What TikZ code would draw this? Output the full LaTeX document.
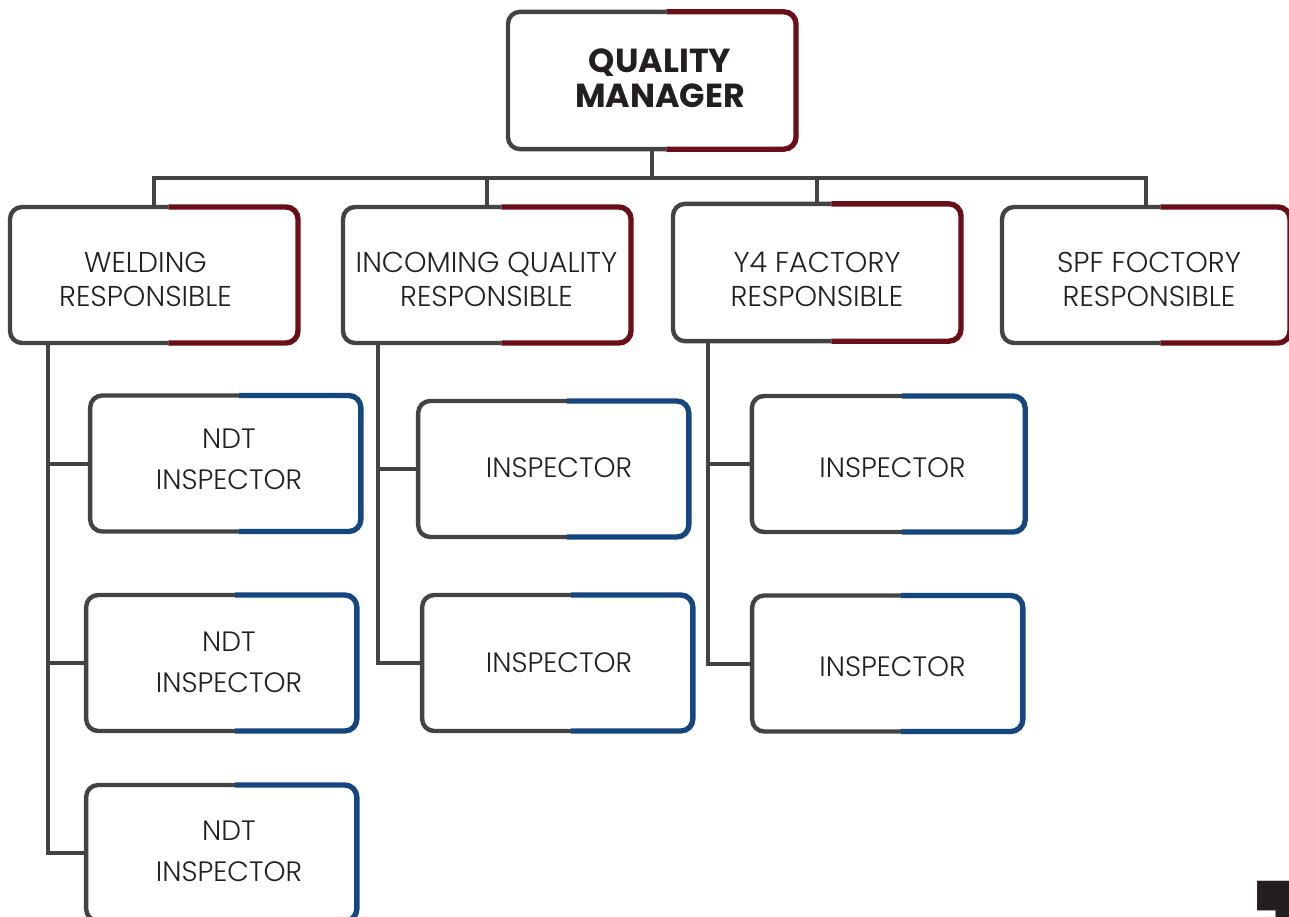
\documentclass[tikz,border=0pt]{standalone}
\usepackage{fontspec}
\IfFontExistsTF{Poppins Light}
  {\setmainfont{Poppins Light}[BoldFont=Poppins Bold]}
  {\setmainfont{Poppins}}
\usetikzlibrary{calc}

\definecolor{edgegrey}{HTML}{434343}
\definecolor{edgered}{HTML}{6A0E18}
\definecolor{edgeblue}{HTML}{16467F}
\definecolor{ink}{HTML}{231F20}

% one box: grey on the left, colour on the right
\newcommand{\splitbox}[2]{%
  \draw[greyedge] ($(#1.north west)!0.55!(#1.north east)$) -- (#1.north west) -- (#1.south west) -- ($(#1.south west)!0.55!(#1.south east)$);
  \draw[coloredge=#2] ($(#1.north west)!0.55!(#1.north east)$) -- (#1.north east) -- (#1.south east) -- ($(#1.south west)!0.55!(#1.south east)$);
}

\begin{document}
\begin{tikzpicture}[x=0.75pt,y=-0.75pt,
    frame/.style={inner sep=0pt,outer sep=0pt,fill=white},
    head/.style={frame,minimum width=216pt,minimum height=102pt},
    sub/.style={frame,minimum width=203pt,minimum height=102pt},
    lbl/.style={inner sep=0pt,align=center,text=ink,font=\fontsize{21.5}{25.5}\selectfont},
    sublbl/.style={lbl,font=\fontsize{21}{30.75}\selectfont},
    greyedge/.style={edgegrey,line width=3.3pt,rounded corners=9pt},
    coloredge/.style={#1,line width=4pt,rounded corners=9pt},
    link/.style={edgegrey,line width=3pt}]
  \useasboundingbox (0,0) rectangle (1289,917);
  \clip (0,0) rectangle (1289,917);

  % frames
  \node[head,minimum height=103pt] (qm) at (652,80.5) {};
  \node[head] (wel) at (154,275) {};
  \node[head] (inc) at (487,275) {};
  \node[head,minimum height=103pt] (yfour) at (817,272.5) {};
  \node[head] (spf) at (1146,275) {};

  \node[sub] (ndta) at (225.5,463.5) {};
  \node[sub] (ndtb) at (221.5,663) {};
  \node[sub] (ndtc) at (221.5,853) {};
  \node[sub] (inca) at (553.5,469) {};
  \node[sub] (incb) at (557.5,663) {};
  \node[sub,minimum width=205pt] (yfa) at (888.5,464) {};
  \node[sub] (yfb) at (887.5,663.5) {};

  % connectors
  \coordinate (bar) at (0,178);
  \draw[link] (qm.south) -- (qm.south |- bar);
  \draw[link] (wel.north) |- (spf.north |- bar) -- (spf.north);
  \draw[link] (inc.north) -- (inc.north |- bar);
  \draw[link] (yfour.north) -- (yfour.north |- bar);

  \coordinate (welspine) at (48,0);
  \coordinate (incspine) at (378,0);
  \coordinate (yfspine) at (708,0);
  \draw[link] (welspine |- wel.south) |- (ndtc.west);
  \draw[link] (welspine |- ndta.west) -- (ndta.west);
  \draw[link] (welspine |- ndtb.west) -- (ndtb.west);
  \draw[link] (incspine |- inc.south) |- (incb.west);
  \draw[link] (incspine |- inca.west) -- (inca.west);
  \draw[link] (yfspine |- yfour.south) |- (yfb.west);
  \draw[link] (yfspine |- yfa.west) -- (yfa.west);

  % borders
  \foreach \n in {qm,wel,inc,yfour,spf} {\splitbox{\n}{edgered}}
  \foreach \n in {ndta,ndtb,ndtc,inca,incb,yfa,yfb} {\splitbox{\n}{edgeblue}}

  % texts
  \node[lbl,font=\fontsize{25}{26}\selectfont\bfseries] (qmtext) at (660,78.5) {QUALITY\\MANAGER};
  \node[lbl] (weltext) at (145.5,279.5) {WELDING\\RESPONSIBLE};
  \node[lbl] (inctext) at (486.5,279.5) {INCOMING QUALITY\\RESPONSIBLE};
  \node[lbl] (yfourtext) at (817,279.5) {Y4 FACTORY\\RESPONSIBLE};
  \node[lbl] (spftext) at (1149,279.5) {SPF FOCTORY\\RESPONSIBLE};
  \foreach \n/\x/\y in {ndtatext/229/459, ndtbtext/229/662, ndtctext/229/851}
    \node[sublbl] (\n) at (\x,\y) {NDT\\INSPECTOR};
  \foreach \n/\x/\y in {incatext/559/467.5, incbtext/559/663, yfatext/892.5/467.5, yfbtext/892.5/667}
    \node[sublbl] (\n) at (\x,\y) {INSPECTOR};

  \node[anchor=north west,inner sep=0pt,text=ink,font=\fontsize{140}{140}\selectfont\bfseries] (pagenum) at (1252,881) {1};
\end{tikzpicture}
\end{document}
